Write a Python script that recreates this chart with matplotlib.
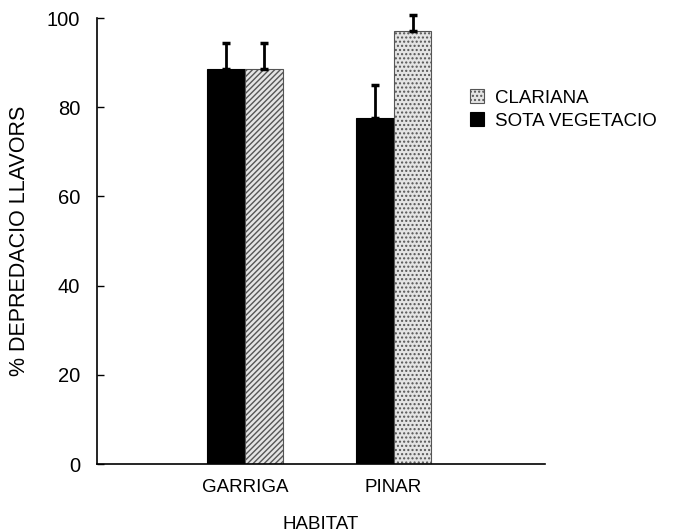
import numpy as np
import matplotlib.pyplot as plt

plt.rcParams['font.family'] = ['Liberation Sans', 'DejaVu Sans']

habitats = ["GARRIGA", "PINAR"]
sota_vals = [88.5, 77.6]
sota_err = [6.0, 7.3]
clariana_vals = [88.6, 97.1]
clariana_err = [5.8, 3.6]

saveImgPath = "out.png"


def main():
    fig = plt.figure(figsize=(6.76, 5.32), dpi=100)
    ax = fig.add_axes([0.1435, 0.1278, 0.6625, 0.8382])

    x = np.arange(1, len(habitats) + 1)
    w = 0.255

    ax.bar(x - w / 2, sota_vals, width=w, color="black", edgecolor="black",
           linewidth=0.8, label="SOTA VEGETACIO", zorder=2)
    cl = ax.bar(x + w / 2, clariana_vals, width=w, color="#e4e4e4",
                edgecolor="#555555", linewidth=0.8, label="CLARIANA", zorder=2)
    cl[0].set_hatch("//////")
    cl[1].set_hatch("....")

    # nomes barres d'error cap amunt
    ax.errorbar(x - w / 2, sota_vals, yerr=[np.zeros(2), sota_err], fmt="none",
                ecolor="black", elinewidth=2, capsize=3, capthick=2.5,
                clip_on=False, zorder=3)
    ax.errorbar(x + w / 2, clariana_vals, yerr=[np.zeros(2), clariana_err],
                fmt="none", ecolor="black", elinewidth=2, capsize=3,
                capthick=2.5, clip_on=False, zorder=3)

    ax.set_xlim(0, 3.02)
    ax.set_ylim(0, 100)
    ax.set_yticks([0, 20, 40, 60, 80, 100])
    ax.set_xticks(x)
    ax.set_xticklabels(habitats)
    ax.tick_params(axis="y", direction="in", length=5, width=1, pad=12,
                   labelsize=14.5)
    ax.tick_params(axis="x", length=0, pad=11, labelsize=13.5)
    ax.spines["top"].set_visible(False)
    ax.spines["right"].set_visible(False)
    ax.spines["left"].set_linewidth(1.2)
    ax.spines["bottom"].set_linewidth(1.2)

    ax.set_ylabel("% DEPREDACIO LLAVORS", fontsize=15.5, labelpad=12)
    ax.set_xlabel("HABITAT", fontsize=13.5, labelpad=14)

    handles, labels = ax.get_legend_handles_labels()
    leg = ax.legend(handles[::-1], labels[::-1], loc="upper left",
                    bbox_to_anchor=(0.833, 0.84), frameon=False, fontsize=13.5,
                    handlelength=0.75, handleheight=0.75, handletextpad=0.6,
                    labelspacing=0.3, borderaxespad=0, borderpad=0)
    leg.legend_handles[0].set_hatch("....")

    plt.savefig(saveImgPath, dpi=100)


if __name__ == "__main__":
    main()
